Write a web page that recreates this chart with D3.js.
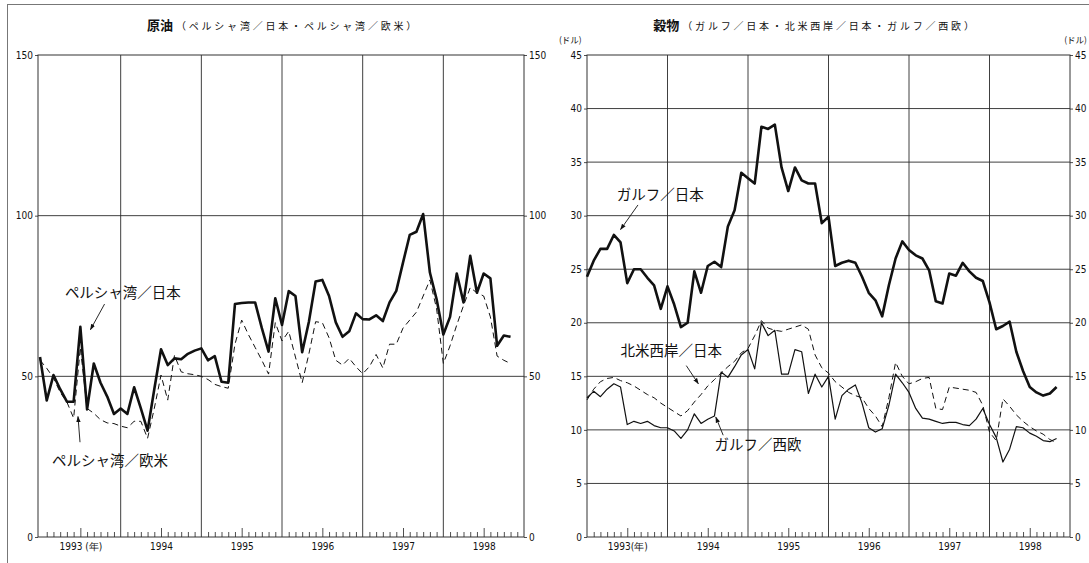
<!DOCTYPE html>
<html>
<head>
<meta charset="utf-8">
<script src="https://cdn.jsdelivr.net/npm/d3@7/dist/d3.min.js"></script>
<style>
    body { margin: 0; background: #fff; }
    svg { display: block; }
    .jp { font-family: "Noto Sans CJK JP", sans-serif; fill: #111; }
    .axis path { display: none; }
    .axis line { stroke: #222; stroke-width: 0.8; }
    .axis text { font-family: "Liberation Sans Narrow", "DejaVu Sans Condensed", sans-serif; font-size: 10px; fill: #111; }
    .grid { stroke: #2a2a2a; stroke-width: 0.9; fill: none; }
    .frame { stroke: #333; stroke-width: 1; fill: none; }
</style>
</head>
<body>
<div id="chart"></div>
<script>
    // month index 0 = Jan 1993, last point = Nov 1998
    var years = [1993, 1994, 1995, 1996, 1997, 1998];
    var yearLabels = ["1993 (年)", "1994", "1995", "1996", "1997", "1998"];
    var yearLabelsRight = ["1993(年)", "1994", "1995", "1996", "1997", "1998"];

    // 原油 (ドル)
    var crudeTicks = [0, 50, 100, 150];
    var crudeJapan = [
        56, 42.5, 50.4, 46, 42.1, 42.1, 65.4, 39.7, 54, 48, 43.7, 38.3,
        40, 38.3, 46.6, 40, 33.1, 46, 58.4, 53.5, 55.6, 55.3, 57, 58,
        58.7, 55, 56.3, 48.3, 48, 72.5, 72.8, 73, 73, 65, 57.7, 74.3,
        66, 76.5, 75, 57.5, 67, 79.5, 80, 75, 66.8, 62.3, 64, 69.6,
        67.8, 67.7, 69, 67.2, 73, 76.6, 85.4, 94, 95, 100.5, 82.3, 74,
        63, 68.5, 82, 73, 87.5, 76, 82, 80.5, 59.5, 62.7, 62.3
    ];
    var crudeEurope = [
        55, 52.5, 49.5, 45, 42, 37, 59, 40, 38.5, 36.5, 35.5, 35.3,
        34.5, 34, 36, 36, 30.7, 40, 50.4, 42.6, 56.5, 51.4, 50.8, 50.5,
        50, 49, 47.5, 46.8, 46.3, 60, 67.5, 63, 59, 55, 50.7, 66.7,
        61, 64, 56, 48, 57, 67, 66.7, 62, 55, 53.5, 55.6, 53,
        50.8, 53, 56.8, 52.6, 60, 60, 65, 67.5, 70, 75, 80, 71,
        54, 59.5, 66, 72, 77.6, 76, 75, 68.5, 56.3, 55, 54
    ];

    // 穀物 (ドル)
    var grainTicks = [0, 5, 10, 15, 20, 25, 30, 35, 40, 45];
    var grainGulfJapan = [
        24.3, 25.8, 26.9, 26.9, 28.2, 27.5, 23.7, 25, 25, 24.2, 23.5, 21.3,
        23.4, 21.7, 19.6, 20, 24.8, 22.8, 25.3, 25.7, 25.2, 29, 30.5, 34,
        33.5, 33, 38.3, 38.1, 38.5, 34.5, 32.3, 34.5, 33.3, 33, 33, 29.3,
        29.9, 25.3, 25.6, 25.8, 25.6, 24.3, 22.8, 22.1, 20.6, 23.5, 26, 27.6,
        26.8, 26.3, 26, 24.9, 22, 21.8, 24.6, 24.4, 25.6, 24.8, 24.2, 23.9,
        21.9, 19.4, 19.7, 20.1, 17.3, 15.5, 14, 13.5, 13.2, 13.4, 14
    ];
    var grainWestCoastJapan = [
        12.8, 13.8, 14.5, 14.8, 14.9, 14.6, 14.4, 14.1, 13.7, 13.3, 13, 12.5,
        12.1, 11.7, 11.3, 11.8, 12.6, 13.3, 14.1, 14.7, 15.3, 15.9, 16.4, 17.2,
        17.6, 18.8, 20.2, 19.5, 19.3, 19.2, 19.4, 19.6, 19.8, 19.4, 17, 15.8,
        15.3, 14.5, 14, 13.5, 13.2, 13, 12, 11.3, 10.3, 13, 16.3, 15,
        14.3, 14.5, 14.8, 14.9, 12, 11.9, 14, 13.9, 13.8, 13.7, 13.5, 12.3,
        9.8, 9, 12.9, 12.2, 11.4, 10.8, 10.3, 9.9, 9.6, 9.1, 8.8
    ];
    var grainGulfEurope = [
        13, 13.6, 13.1, 13.8, 14.3, 14, 10.5, 10.8, 10.6, 10.8, 10.4, 10.2,
        10.2, 9.9, 9.2, 10, 11.5, 10.6, 11, 11.3, 15.4, 14.9, 15.9, 17,
        17.5, 15.7, 20, 18.8, 19.3, 15.2, 15.2, 17.5, 17.3, 13.4, 15.2, 14,
        15, 11, 13.2, 13.8, 14.2, 12.5, 10.2, 9.8, 10.1, 12.3, 15.2, 14.4,
        13.5, 12, 11.1, 11, 10.8, 10.6, 10.7, 10.7, 10.5, 10.4, 11, 12,
        10.5, 9.3, 7, 8.2, 10.3, 10.2, 9.7, 9.4, 9, 8.9, 9.2
    ];

    var W = 1089, H = 563;
    var svg = d3.select("#chart").append("svg")
        .attr("width", W)
        .attr("height", H);

    svg.append("defs").append("marker")
        .attr("id", "arrow")
        .attr("viewBox", "0 0 10 10")
        .attr("refX", 9).attr("refY", 5)
        .attr("markerWidth", 7).attr("markerHeight", 7)
        .attr("orient", "auto")
        .append("path")
        .attr("d", "M0,1.5 L10,5 L0,8.5 Z")
        .attr("fill", "#111");

    // scan page edges
    svg.append("line").attr("class", "frame")
        .attr("x1", 7).attr("x2", W).attr("y1", 4.5).attr("y2", 4.5)
        .style("stroke", "#777");
    svg.append("line").attr("class", "frame")
        .attr("x1", 7.5).attr("x2", 7.5).attr("y1", 4.5).attr("y2", H)
        .style("stroke", "#777");

    function drawPanel(p) {
        var x = d3.scaleLinear().domain(p.xDomain).range([p.left, p.right]);
        var y = d3.scaleLinear().domain([0, p.yMax]).range([p.bottom, p.top]);
        var g = svg.append("g");

        // grid
        g.selectAll(".hgrid")
            .data(p.grid)
            .enter().append("line")
            .attr("class", "grid")
            .attr("x1", p.left).attr("x2", p.right)
            .attr("y1", function (d) { return y(d); })
            .attr("y2", function (d) { return y(d); });

        g.selectAll(".vgrid")
            .data(years.slice(1))
            .enter().append("line")
            .attr("class", "grid")
            .attr("x1", function (d, i) { return x((i + 1) * 12); })
            .attr("x2", function (d, i) { return x((i + 1) * 12); })
            .attr("y1", p.top).attr("y2", p.bottom);

        g.append("rect").attr("class", "frame")
            .attr("x", p.left).attr("y", p.top)
            .attr("width", p.right - p.left)
            .attr("height", p.bottom - p.top);

        // monthly ticks inside the bottom frame
        var monthAxis = d3.axisTop(x)
            .tickValues(d3.range(0, 72))
            .tickSize(5)
            .tickFormat("");
        var mt = g.append("g").attr("class", "axis")
            .attr("transform", "translate(0," + p.bottom + ")")
            .call(monthAxis);
        mt.selectAll(".tick line")
            .attr("y2", function (d) { return d % 12 === 6 ? -9 : (d % 12 === 0 ? 0 : -5); });

        // year labels
        var yearAxis = d3.axisBottom(x)
            .tickValues(years.map(function (d, i) { return i * 12 + 6; }))
            .tickSize(0)
            .tickPadding(6)
            .tickFormat(function (d, i) { return p.yearLabels[i]; });
        g.append("g").attr("class", "axis")
            .attr("transform", "translate(0," + p.bottom + ")")
            .call(yearAxis);

        // value axes, both sides
        g.append("g").attr("class", "axis")
            .attr("transform", "translate(" + p.left + ",0)")
            .call(d3.axisLeft(y).tickValues(p.ticks).tickSize(3).tickPadding(2));
        g.append("g").attr("class", "axis")
            .attr("transform", "translate(" + p.right + ",0)")
            .call(d3.axisRight(y).tickValues(p.ticks).tickSize(3).tickPadding(2));

        // series
        var line = d3.line()
            .x(function (d, i) { return x(i); })
            .y(function (d) { return y(d); });

        p.series.forEach(function (s) {
            g.append("path")
                .datum(s.values)
                .attr("fill", "none")
                .attr("stroke", "#111")
                .attr("stroke-width", s.width)
                .attr("stroke-linejoin", "round")
                .attr("stroke-dasharray", s.dash || null)
                .attr("d", line);
        });

        // title
        var t = svg.append("text")
            .attr("class", "jp")
            .attr("x", p.titleX).attr("y", 30)
            .attr("text-anchor", "middle");
        t.append("tspan").text(p.title)
            .style("font-size", "13px").style("font-weight", "700");
        t.append("tspan").text(p.subtitle)
            .attr("dx", 3)
            .style("font-size", "10px")
            .style("letter-spacing", "2.8px");

        // labels with leader arrows
        p.notes.forEach(function (n) {
            g.append("text")
                .attr("class", "jp")
                .attr("x", x(n.at[0])).attr("y", y(n.at[1]))
                .style("font-size", "14.5px")
                .text(n.text);
            g.append("line")
                .attr("x1", x(n.from[0])).attr("y1", y(n.from[1]))
                .attr("x2", x(n.to[0])).attr("y2", y(n.to[1]))
                .attr("stroke", "#111")
                .attr("stroke-width", 0.9)
                .attr("marker-end", "url(#arrow)");
        });

        if (p.unit) {
            svg.append("text").attr("class", "jp")
                .attr("x", p.left - 28).attr("y", 43)
                .style("font-size", "8.5px").text(p.unit);
            svg.append("text").attr("class", "jp")
                .attr("x", W - 2).attr("y", 43)
                .attr("text-anchor", "end")
                .style("font-size", "8.5px").text(p.unit);
        }
    }

    drawPanel({
        left: 38, right: 524, top: 55, bottom: 537,
        xDomain: [-0.3, 72], yMax: 150,
        ticks: crudeTicks, grid: [50, 100],
        yearLabels: yearLabels,
        titleX: 283, title: "原油", subtitle: "（ペルシャ湾／日本・ペルシャ湾／欧米）",
        series: [
            { values: crudeJapan, width: 2.6 },
            { values: crudeEurope, width: 1, dash: "6,4" }
        ],
        notes: [
            { text: "ペルシャ湾／日本", at: [3.7, 74.4], from: [9.6, 72.5], to: [7.5, 64.5] },
            { text: "ペルシャ湾／欧米", at: [1.8, 22.1], from: [5.95, 29.5], to: [5.65, 37.5] }
        ]
    });

    drawPanel({
        left: 587, right: 1070, top: 55, bottom: 537,
        xDomain: [0, 72], yMax: 45,
        ticks: grainTicks, grid: [5, 10, 15, 20, 25, 30, 35, 40],
        yearLabels: yearLabelsRight,
        titleX: 815, title: "穀物", subtitle: "（ガルフ／日本・北米西岸／日本・ガルフ／西欧）",
        unit: "(ドル)",
        series: [
            { values: grainGulfJapan, width: 2.6 },
            { values: grainWestCoastJapan, width: 1, dash: "6,4" },
            { values: grainGulfEurope, width: 1.2 }
        ],
        notes: [
            { text: "ガルフ／日本", at: [4.45, 31.5], from: [7.6, 31.0], to: [5.0, 28.7] },
            { text: "北米西岸／日本", at: [5.0, 16.9], from: [14.8, 16.0], to: [16.6, 14.3] },
            { text: "ガルフ／西欧", at: [19.0, 8.1], from: [20.3, 9.5], to: [19.2, 11.2] }
        ]
    });
</script>
</body>
</html>
